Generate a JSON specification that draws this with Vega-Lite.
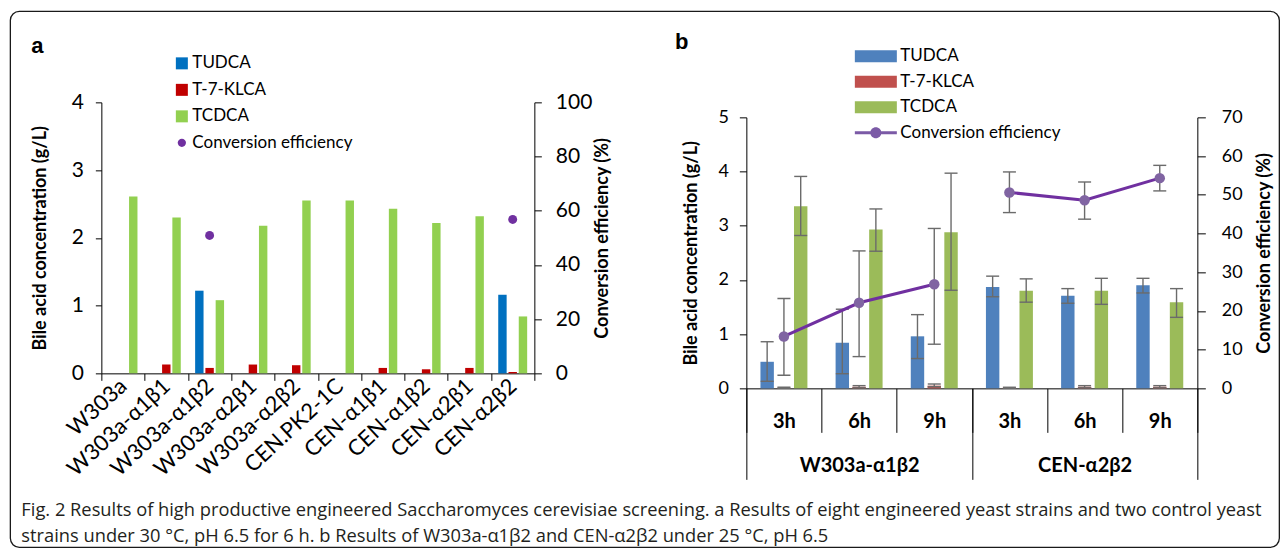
{
  "$schema": "https://vega.github.io/schema/vega-lite/v6.json",
  "background": "white",
  "padding": {"left": 10.35, "top": 11.35, "right": 0, "bottom": 0},
  "datasets": {
    "aBars": [
      {"strain": "W303a", "series": "TCDCA", "value": 2.61},
      {"strain": "W303a-α1β1", "series": "T-7-KLCA", "value": 0.13},
      {"strain": "W303a-α1β1", "series": "TCDCA", "value": 2.30},
      {"strain": "W303a-α1β2", "series": "TUDCA", "value": 1.22},
      {"strain": "W303a-α1β2", "series": "T-7-KLCA", "value": 0.08},
      {"strain": "W303a-α1β2", "series": "TCDCA", "value": 1.08},
      {"strain": "W303a-α2β1", "series": "T-7-KLCA", "value": 0.13},
      {"strain": "W303a-α2β1", "series": "TCDCA", "value": 2.18},
      {"strain": "W303a-α2β2", "series": "T-7-KLCA", "value": 0.12},
      {"strain": "W303a-α2β2", "series": "TCDCA", "value": 2.55},
      {"strain": "CEN.PK2-1C", "series": "TCDCA", "value": 2.55},
      {"strain": "CEN-α1β1", "series": "T-7-KLCA", "value": 0.08},
      {"strain": "CEN-α1β1", "series": "TCDCA", "value": 2.43},
      {"strain": "CEN-α1β2", "series": "T-7-KLCA", "value": 0.06},
      {"strain": "CEN-α1β2", "series": "TCDCA", "value": 2.22},
      {"strain": "CEN-α2β1", "series": "T-7-KLCA", "value": 0.08},
      {"strain": "CEN-α2β1", "series": "TCDCA", "value": 2.32},
      {"strain": "CEN-α2β2", "series": "TUDCA", "value": 1.16},
      {"strain": "CEN-α2β2", "series": "T-7-KLCA", "value": 0.02},
      {"strain": "CEN-α2β2", "series": "TCDCA", "value": 0.84}
    ],
    "aConv": [
      {"strain": "W303a-α1β2", "eff": 50.9},
      {"strain": "CEN-α2β2", "eff": 56.8}
    ],
    "bBars": [
      {"cat": "W303a-α1β2|3h", "series": "TUDCA", "v": 0.49, "lo": 0.13, "hi": 0.86},
      {"cat": "W303a-α1β2|3h", "series": "T-7-KLCA", "v": 0.01, "lo": 0.0, "hi": 0.02},
      {"cat": "W303a-α1β2|3h", "series": "TCDCA", "v": 3.36, "lo": 2.82, "hi": 3.91},
      {"cat": "W303a-α1β2|6h", "series": "TUDCA", "v": 0.84, "lo": 0.27, "hi": 1.46},
      {"cat": "W303a-α1β2|6h", "series": "T-7-KLCA", "v": 0.03, "lo": 0.01, "hi": 0.05},
      {"cat": "W303a-α1β2|6h", "series": "TCDCA", "v": 2.93, "lo": 2.53, "hi": 3.31},
      {"cat": "W303a-α1β2|9h", "series": "TUDCA", "v": 0.96, "lo": 0.55, "hi": 1.36},
      {"cat": "W303a-α1β2|9h", "series": "T-7-KLCA", "v": 0.05, "lo": 0.03, "hi": 0.08},
      {"cat": "W303a-α1β2|9h", "series": "TCDCA", "v": 2.88, "lo": 1.81, "hi": 3.97},
      {"cat": "CEN-α2β2|3h", "series": "TUDCA", "v": 1.87, "lo": 1.69, "hi": 2.07},
      {"cat": "CEN-α2β2|3h", "series": "T-7-KLCA", "v": 0.01, "lo": 0.0, "hi": 0.02},
      {"cat": "CEN-α2β2|3h", "series": "TCDCA", "v": 1.80, "lo": 1.59, "hi": 2.02},
      {"cat": "CEN-α2β2|6h", "series": "TUDCA", "v": 1.71, "lo": 1.57, "hi": 1.84},
      {"cat": "CEN-α2β2|6h", "series": "T-7-KLCA", "v": 0.03, "lo": 0.01, "hi": 0.05},
      {"cat": "CEN-α2β2|6h", "series": "TCDCA", "v": 1.80, "lo": 1.55, "hi": 2.03},
      {"cat": "CEN-α2β2|9h", "series": "TUDCA", "v": 1.90, "lo": 1.76, "hi": 2.03},
      {"cat": "CEN-α2β2|9h", "series": "T-7-KLCA", "v": 0.03, "lo": 0.01, "hi": 0.05},
      {"cat": "CEN-α2β2|9h", "series": "TCDCA", "v": 1.59, "lo": 1.31, "hi": 1.84}
    ],
    "bConv": [
      {"grp": "W303a-α1β2", "cat": "W303a-α1β2|3h", "eff": 13.4, "lo": 3.4, "hi": 23.2},
      {"grp": "W303a-α1β2", "cat": "W303a-α1β2|6h", "eff": 22.1, "lo": 8.2, "hi": 35.5},
      {"grp": "W303a-α1β2", "cat": "W303a-α1β2|9h", "eff": 26.9, "lo": 11.4, "hi": 41.3},
      {"grp": "CEN-α2β2", "cat": "CEN-α2β2|3h", "eff": 50.6, "lo": 45.4, "hi": 55.9},
      {"grp": "CEN-α2β2", "cat": "CEN-α2β2|6h", "eff": 48.6, "lo": 43.7, "hi": 53.3},
      {"grp": "CEN-α2β2", "cat": "CEN-α2β2|9h", "eff": 54.3, "lo": 51.0, "hi": 57.6}
    ],
    "bGroups": [
      {"grp": "W303a-α1β2"},
      {"grp": "CEN-α2β2"}
    ]
  },
  "config": {
    "view": {"stroke": null},
    "font": "Lato",
    "axis": {"grid": false, "domainColor": "#000", "tickColor": "#000", "labelColor": "#000", "titleColor": "#000", "labelFont": "Lato", "titleFont": "Lato", "domainWidth": 1, "tickWidth": 1},
    "legend": {"padding": 0, "labelFont": "Lato", "labelColor": "#000", "symbolStrokeWidth": 0, "labelLimit": 0}
  },
  "spacing": 62,
  "resolve": {"scale": {"color": "independent", "xOffset": "independent"}, "legend": {"color": "independent"}},
  "title": {
    "text": [
      "Fig. 2  Results of high productive engineered Saccharomyces cerevisiae screening. a Results of eight engineered yeast strains and two control yeast",
      "strains under 30 °C, pH 6.5 for 6 h. b Results of W303a-α1β2 and CEN-α2β2 under 25 °C, pH 6.5"
    ],
    "orient": "bottom",
    "anchor": "start",
    "frame": "bounds",
    "font": "Open Sans",
    "fontSize": 18.3,
    "fontWeight": "normal",
    "color": "#231f20",
    "lineHeight": 26,
    "offset": -46,
    "dx": 11
  },
  "hconcat": [
    {
      "width": 433,
      "height": 271,
      "title": {"text": "a", "anchor": "start", "frame": "bounds", "font": "Liberation Sans", "fontSize": 22, "fontWeight": "bold", "color": "#000", "offset": -3},
      "layer": [
        {
          "data": {"name": "aBars"},
          "mark": {"type": "bar"},
          "encoding": {
            "x": {
              "field": "strain", "type": "nominal",
              "scale": {"domain": ["W303a", "W303a-α1β1", "W303a-α1β2", "W303a-α2β1", "W303a-α2β2", "CEN.PK2-1C", "CEN-α1β1", "CEN-α1β2", "CEN-α2β1", "CEN-α2β2"], "paddingInner": 0, "paddingOuter": 0},
              "axis": {"title": null, "labelAngle": -43, "labelAlign": "right", "labelBaseline": "middle", "labelFontSize": 22, "labelPadding": 2, "tickBand": "extent", "tickSize": 7}
            },
            "xOffset": {"field": "series", "type": "nominal", "scale": {"domain": ["TUDCA", "T-7-KLCA", "TCDCA"], "paddingInner": 0.18, "paddingOuter": 0.7}},
            "y": {
              "field": "value", "type": "quantitative",
              "scale": {"domain": [0, 4]},
              "axis": {"title": "Bile acid concentration (g/L)", "titleFontSize": 18, "titleFontWeight": "bold", "titlePadding": 22, "values": [0, 1, 2, 3, 4], "format": "d", "labelFontSize": 21, "labelPadding": 12, "tickSize": 6}
            },
            "color": {
              "field": "series", "type": "nominal",
              "scale": {"domain": ["TUDCA", "T-7-KLCA", "TCDCA", "Conversion efficiency"], "range": ["#0070C0", "#C00000", "#92D050", "#7030A0"]},
              "legend": {
                "title": null, "orient": "none", "legendX": 72, "legendY": -47.5,
                "rowPadding": 8.5, "labelOffset": 2, "symbolSize": 144, "labelFontSize": 17, "labelLimit": 0,
                "encode": {"symbols": {"update": {"shape": {"signal": "datum.value === 'Conversion efficiency' ? 'M-0.69,0A0.69,0.69 0 1,1 0.69,0A0.69,0.69 0 1,1 -0.69,0Z' : 'square'"}}}}
              }
            }
          }
        },
        {
          "data": {"name": "aConv"},
          "mark": {"type": "point", "filled": true, "opacity": 1, "color": "#7030A0", "size": 80, "shape": "circle"},
          "encoding": {
            "x": {"field": "strain", "type": "nominal"},
            "y": {
              "field": "eff", "type": "quantitative",
              "scale": {"domain": [0, 100]},
              "axis": {"orient": "right", "title": "Conversion efficiency (%)", "titleAngle": 270, "titleBaseline": "top", "titleFontSize": 18, "titleFontWeight": "bold", "titlePadding": 2, "values": [0, 20, 40, 60, 80, 100], "format": "d", "labelFontSize": 21, "labelPadding": 14, "tickSize": 7}
            }
          }
        }
      ],
      "resolve": {"scale": {"y": "independent"}}
    },
    {
      "width": 451,
      "height": 286,
      "title": {"text": "b", "anchor": "start", "frame": "bounds", "font": "Liberation Sans", "fontSize": 22, "fontWeight": "bold", "color": "#000", "offset": -6, "dx": -8},
      "layer": [
        {
          "layer": [
            {
              "data": {"name": "bBars"},
              "mark": {"type": "bar"},
              "encoding": {
                "x": {
                  "field": "cat", "type": "nominal",
                  "scale": {"domain": ["W303a-α1β2|3h", "W303a-α1β2|6h", "W303a-α1β2|9h", "CEN-α2β2|3h", "CEN-α2β2|6h", "CEN-α2β2|9h"], "paddingInner": 0, "paddingOuter": 0},
                  "axis": {"title": null, "labelExpr": "split(datum.label, '|')[1]", "labelAngle": 0, "labelAlign": "center", "labelBaseline": "top", "labelFontSize": 20, "labelFontWeight": "bold", "labelPadding": -21, "tickBand": "extent", "tickSize": 44}
                },
                "xOffset": {"field": "series", "type": "nominal", "scale": {"domain": ["TUDCA", "T-7-KLCA", "TCDCA"], "paddingInner": 0.2, "paddingOuter": 0.84}},
                "y": {
                  "field": "v", "type": "quantitative",
                  "scale": {"domain": [0, 5], "range": [286, 15]},
                  "axis": {"title": "Bile acid concentration (g/L)", "titleFontSize": 18, "titleFontWeight": "bold", "titlePadding": 17, "values": [0, 1, 2, 3, 4, 5], "format": "d", "labelFontSize": 18, "labelPadding": 11, "tickSize": 7}
                },
                "color": {
                  "field": "series", "type": "nominal",
                  "scale": {"domain": ["TUDCA", "T-7-KLCA", "TCDCA", "Conversion efficiency"], "range": ["#4F81BD", "#C0504D", "#9BBB59", "#7B5AA6"]},
                  "legend": {
                    "title": null, "orient": "none", "legendX": 121, "legendY": -54.5,
                    "rowPadding": 7.5, "labelOffset": 16, "symbolSize": 144, "labelFontSize": 17, "labelLimit": 0,
                    "encode": {"symbols": {"update": {"shape": {"signal": "datum.value === 'Conversion efficiency' ? 'M-3.5,-0.25H3.5V0.25H-3.5Z M-0.92,0A0.92,0.92 0 1,1 0.92,0A0.92,0.92 0 1,1 -0.92,0Z' : 'M-3.5,-1H3.5V1H-3.5Z'"}}}}
                  }
                }
              }
            },
            {
              "data": {"name": "bBars"},
              "mark": {"type": "rule", "color": "#6b6b6b", "strokeWidth": 1.4},
              "encoding": {
                "x": {"field": "cat", "type": "nominal"},
                "xOffset": {"field": "series", "type": "nominal"},
                "y": {"field": "lo", "type": "quantitative"},
                "y2": {"field": "hi"}
              }
            },
            {
              "data": {"name": "bBars"},
              "mark": {"type": "tick", "color": "#6b6b6b", "thickness": 1.4, "size": 13, "opacity": 1},
              "encoding": {
                "x": {"field": "cat", "type": "nominal"},
                "xOffset": {"field": "series", "type": "nominal"},
                "y": {"field": "lo", "type": "quantitative"}
              }
            },
            {
              "data": {"name": "bBars"},
              "mark": {"type": "tick", "color": "#6b6b6b", "thickness": 1.4, "size": 13, "opacity": 1},
              "encoding": {
                "x": {"field": "cat", "type": "nominal"},
                "xOffset": {"field": "series", "type": "nominal"},
                "y": {"field": "hi", "type": "quantitative"}
              }
            }
          ]
        },
        {
          "layer": [
            {
              "data": {"name": "bConv"},
              "mark": {"type": "line", "color": "#7030A0", "strokeWidth": 3},
              "encoding": {
                "x": {"field": "cat", "type": "nominal", "scale": {"domain": ["W303a-α1β2|3h", "W303a-α1β2|6h", "W303a-α1β2|9h", "CEN-α2β2|3h", "CEN-α2β2|6h", "CEN-α2β2|9h"], "paddingInner": 0, "paddingOuter": 0}, "axis": null},
                "y": {
                  "field": "eff", "type": "quantitative",
                  "scale": {"domain": [0, 70], "range": [286, 15]},
                  "axis": {"orient": "right", "title": "Conversion efficiency (%)", "titleAngle": 270, "titleBaseline": "top", "titleFontSize": 18, "titleFontWeight": "bold", "titlePadding": 13, "values": [0, 10, 20, 30, 40, 50, 60, 70], "format": "d", "labelFontSize": 18, "labelPadding": 16, "tickSize": 8}
                },
                "detail": {"field": "grp"}
              }
            },
            {
              "data": {"name": "bConv"},
              "mark": {"type": "rule", "color": "#6b6b6b", "strokeWidth": 1.4},
              "encoding": {
                "x": {"field": "cat", "type": "nominal", "axis": null},
                "y": {"field": "lo", "type": "quantitative", "axis": {"orient": "right", "title": "Conversion efficiency (%)", "titleAngle": 270, "titleBaseline": "top", "titleFontSize": 18, "titleFontWeight": "bold", "titlePadding": 13, "values": [0, 10, 20, 30, 40, 50, 60, 70], "format": "d", "labelFontSize": 18, "labelPadding": 16, "tickSize": 8}},
                "y2": {"field": "hi"}
              }
            },
            {
              "data": {"name": "bConv"},
              "mark": {"type": "tick", "color": "#6b6b6b", "thickness": 1.4, "size": 13, "opacity": 1},
              "encoding": {
                "x": {"field": "cat", "type": "nominal", "axis": null},
                "y": {"field": "lo", "type": "quantitative", "axis": {"orient": "right", "title": "Conversion efficiency (%)", "titleAngle": 270, "titleBaseline": "top", "titleFontSize": 18, "titleFontWeight": "bold", "titlePadding": 13, "values": [0, 10, 20, 30, 40, 50, 60, 70], "format": "d", "labelFontSize": 18, "labelPadding": 16, "tickSize": 8}}
              }
            },
            {
              "data": {"name": "bConv"},
              "mark": {"type": "tick", "color": "#6b6b6b", "thickness": 1.4, "size": 13, "opacity": 1},
              "encoding": {
                "x": {"field": "cat", "type": "nominal", "axis": null},
                "y": {"field": "hi", "type": "quantitative", "axis": {"orient": "right", "title": "Conversion efficiency (%)", "titleAngle": 270, "titleBaseline": "top", "titleFontSize": 18, "titleFontWeight": "bold", "titlePadding": 13, "values": [0, 10, 20, 30, 40, 50, 60, 70], "format": "d", "labelFontSize": 18, "labelPadding": 16, "tickSize": 8}}
              }
            },
            {
              "data": {"name": "bConv"},
              "mark": {"type": "point", "filled": true, "opacity": 1, "color": "#8064A2", "size": 110, "shape": "circle"},
              "encoding": {
                "x": {"field": "cat", "type": "nominal", "axis": null},
                "y": {"field": "eff", "type": "quantitative", "axis": {"orient": "right", "title": "Conversion efficiency (%)", "titleAngle": 270, "titleBaseline": "top", "titleFontSize": 18, "titleFontWeight": "bold", "titlePadding": 13, "values": [0, 10, 20, 30, 40, 50, 60, 70], "format": "d", "labelFontSize": 18, "labelPadding": 16, "tickSize": 8}}
              }
            }
          ]
        },
        {
          "data": {"name": "bGroups"},
          "mark": {"type": "point", "opacity": 0},
          "encoding": {
            "x": {
              "field": "grp", "type": "nominal",
              "scale": {"domain": ["W303a-α1β2", "CEN-α2β2"], "paddingInner": 0, "paddingOuter": 0},
              "axis": {"orient": "bottom", "title": null, "domain": false, "labelAngle": 0, "labelAlign": "center", "labelBaseline": "top", "labelFontSize": 20, "labelFontWeight": "bold", "labelPadding": -24, "tickBand": "extent", "tickSize": 91}
            },
            "stroke": {
              "datum": 1, "type": "quantitative",
              "scale": {"domain": [0, 1], "range": ["rgba(255,255,255,0)", "rgba(255,255,255,0)"]},
              "legend": {
                "title": null, "orient": "none", "direction": "horizontal",
                "legendX": -91, "legendY": -91,
                "gradientLength": 1269, "gradientThickness": 536,
                "gradientStrokeColor": "#1a1a1a", "gradientStrokeWidth": 1.3,
                "values": [], "labelOpacity": 0, "labelFontSize": 1, "labelOffset": 0,
                "encode": {"gradient": {"update": {"cornerRadius": {"value": 9}, "fill": {"value": "transparent"}}}}
              }
            }
          }
        }
      ],
      "resolve": {"scale": {"x": "independent", "y": "independent", "xOffset": "independent"}}
    }
  ]
}
